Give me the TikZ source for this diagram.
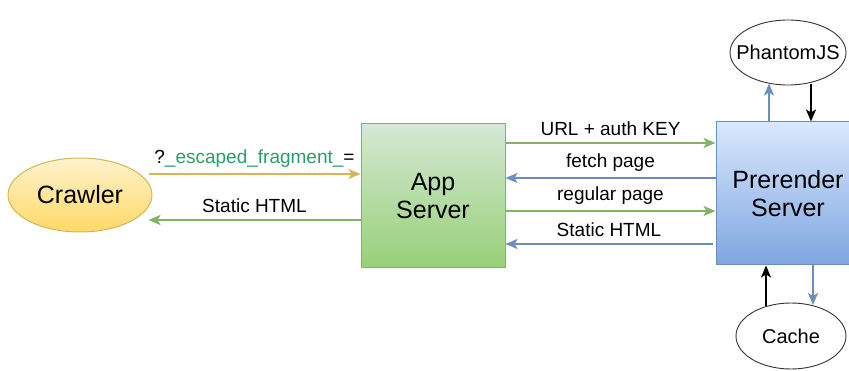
\documentclass[tikz,border=0pt]{standalone}
\usepackage{fontspec}
\setmainfont{Liberation Sans}
\usetikzlibrary{shapes.geometric,arrows.meta,calc}

\definecolor{yelfillA}{HTML}{FFF2CC}
\definecolor{yelfillB}{HTML}{FFD966}
\definecolor{yelline}{HTML}{D6B656}
\definecolor{grnfillA}{HTML}{D5E8D4}
\definecolor{grnfillB}{HTML}{97D077}
\definecolor{grnline}{HTML}{82B366}
\definecolor{blufillA}{HTML}{DAE8FC}
\definecolor{blufillB}{HTML}{7EA6E0}
\definecolor{bluline}{HTML}{6C8EBF}
\definecolor{paramtext}{HTML}{2A9D68}

\tikzset{
  bigtext/.style={font=\fontsize{25}{28.5}\selectfont, align=center},
  crawlerbox/.style={ellipse, draw=yelline, line width=1pt, top color=yelfillA, bottom color=yelfillB, inner sep=0pt},
  appbox/.style={rectangle, draw=grnline, line width=1pt, top color=grnfillA, bottom color=grnfillB, inner sep=0pt},
  renderbox/.style={rectangle, draw=bluline, line width=1pt, top color=blufillA, bottom color=blufillB, inner sep=0pt},
  helperbox/.style={ellipse, draw=black!80, line width=0.9pt, fill=white, inner sep=0pt, font=\fontsize{20}{24}\selectfont},
  flow/.style={line width=2pt, -{Stealth[length=12pt,width=10pt,inset=3pt]}},
  yelflow/.style={flow, draw=yelline},
  grnflow/.style={flow, draw=grnline},
  bluflow/.style={flow, draw=bluline},
  blkflow/.style={flow, draw=black},
  flowlabel/.style={font=\fontsize{19}{22}\selectfont, inner sep=0pt, above=6pt}
}

\begin{document}
\begin{tikzpicture}[x=1pt,y=-1pt]
  \useasboundingbox (0,0) rectangle (849,371);

  % main components (the prerender box runs past the right edge)
  \node[crawlerbox, minimum width=144pt, minimum height=74pt, bigtext] (crawler) at (80,195) {Crawler};
  \node[appbox, minimum width=144pt, minimum height=144pt, bigtext] (app) at (433,196) {App\\Server};
  \node[renderbox, minimum width=144pt, minimum height=143pt, bigtext] (prerender) at (788,193.5) {Prerender\\Server};

  % helpers of the prerender server
  \node[helperbox, inner xsep=-11pt, minimum width=116pt, minimum height=65pt] (phantom) at (788,52.5) {PhantomJS};
  \node[helperbox, minimum width=110pt, minimum height=66pt] (cache) at (791,336) {Cache};

  % crawler <-> app server
  \draw[yelflow] ([shift={(-4,-22)}]app.west -| crawler.east) -- ([yshift=22pt]app.west)
    node[flowlabel, midway] {?\textcolor{paramtext}{\_escaped\_fragment\_}=};
  \draw[grnflow] ([yshift=-24pt]app.west) -- ([shift={(-4,24)}]app.west -| crawler.east)
    node[flowlabel, midway] {Static HTML};

  % app server <-> prerender server
  \draw[grnflow] ([yshift=53pt]app.east) -- ([yshift=53pt]app.east -| prerender.west)
    node[flowlabel, midway] {URL + auth KEY};
  \draw[bluflow] ([yshift=18pt]app.east -| prerender.west) -- ([yshift=18pt]app.east)
    node[flowlabel, midway] {fetch page};
  \draw[grnflow] ([yshift=-15pt]app.east) -- ([yshift=-15pt]app.east -| prerender.west)
    node[flowlabel, midway] {regular page};
  \draw[bluflow] ([shift={(-3,48)}]app.east -| prerender.west) -- ([yshift=-48pt]app.east)
    node[flowlabel, midway] {Static HTML};

  % prerender server <-> PhantomJS
  \draw[bluflow] ([xshift=-19pt]prerender.north) -- ($(phantom.center)+(-19,31)$);
  \draw[blkflow] ($(phantom.center)+(23,32)$) -- ([xshift=23pt]prerender.north);

  % prerender server <-> cache
  \draw[blkflow] ($(cache.center)+(-25,-30)$) -- ([xshift=-22pt]prerender.south);
  \draw[bluflow] ([xshift=25pt]prerender.south) -- ($(cache.center)+(22,-31)$);
\end{tikzpicture}
\end{document}
